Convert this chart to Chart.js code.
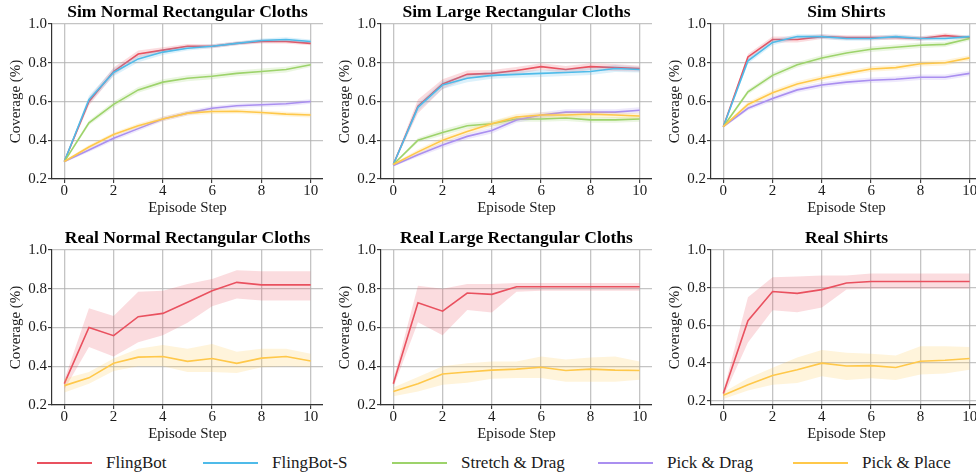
<!DOCTYPE html>
<html>
<head>
<meta charset="utf-8">
<script src="https://cdn.jsdelivr.net/npm/chart.js@4.4.1/dist/chart.umd.min.js"></script>
<style>
  body { margin: 0; width: 976px; height: 474px; overflow: hidden; background: #fff; position: relative; font-family: "Liberation Serif", serif; }
  canvas.panel { position: absolute; }
  .legend-item { position: absolute; top: 452px; height: 22px; display: flex; align-items: center; font-size: 17px; color: #1a1a1a; white-space: nowrap; }
  .legend-item .swatch { display: inline-block; width: 55px; height: 2px; margin-right: 14px; }
</style>
</head>
<body>
<canvas class="panel" id="p1" width="323" height="219" style="left:0px;top:0px"></canvas>
<canvas class="panel" id="p2" width="323" height="219" style="left:329px;top:0px"></canvas>
<canvas class="panel" id="p3" width="323" height="219" style="left:659px;top:0px"></canvas>
<canvas class="panel" id="p4" width="323" height="219" style="left:0px;top:226px"></canvas>
<canvas class="panel" id="p5" width="323" height="219" style="left:329px;top:226px"></canvas>
<canvas class="panel" id="p6" width="323" height="219" style="left:659px;top:226px"></canvas>
<div id="legend"></div>
<script>
const steps = [0, 1, 2, 3, 4, 5, 6, 7, 8, 9, 10];
const xTicks = [0, 2, 4, 6, 8, 10];
const yTicks = [0.2, 0.4, 0.6, 0.8, 1.0];
const methods = ['FlingBot', 'FlingBot-S', 'Stretch & Drag', 'Pick & Drag', 'Pick & Place'];
const colors = ['#e9515f', '#4fbbe9', '#9dd36b', '#aa8ff0', '#ffc84a'];
const legendLeft = [37, 203, 392, 598, 793];

// Sim Normal Rectangular Cloths (mean, half-width of band)
const snFling = [0.29, 0.60, 0.755, 0.845, 0.865, 0.885, 0.885, 0.90, 0.91, 0.91, 0.90];
const snFlingErr = [0.005, 0.02, 0.02, 0.018, 0.015, 0.012, 0.01, 0.01, 0.01, 0.01, 0.01];
const snFlingS = [0.29, 0.61, 0.75, 0.82, 0.855, 0.875, 0.885, 0.90, 0.915, 0.92, 0.91];
const snFlingSErr = [0.005, 0.02, 0.02, 0.018, 0.015, 0.012, 0.01, 0.01, 0.01, 0.012, 0.01];
const snStretch = [0.29, 0.49, 0.585, 0.66, 0.70, 0.72, 0.73, 0.745, 0.755, 0.765, 0.79];
const snStretchErr = [0.005, 0.012, 0.015, 0.015, 0.015, 0.015, 0.015, 0.015, 0.015, 0.015, 0.012];
const snPickDrag = [0.29, 0.35, 0.41, 0.46, 0.51, 0.54, 0.565, 0.578, 0.583, 0.588, 0.60];
const snPickDragErr = [0.005, 0.01, 0.012, 0.012, 0.012, 0.012, 0.012, 0.012, 0.012, 0.012, 0.012];
const snPickPlace = [0.29, 0.365, 0.43, 0.475, 0.51, 0.54, 0.548, 0.55, 0.543, 0.535, 0.53];
const snPickPlaceErr = [0.005, 0.01, 0.01, 0.012, 0.012, 0.012, 0.012, 0.012, 0.012, 0.012, 0.012];

// Sim Large Rectangular Cloths
const slFling = [0.275, 0.575, 0.69, 0.74, 0.745, 0.76, 0.78, 0.765, 0.78, 0.775, 0.77];
const slFlingErr = [0.005, 0.035, 0.025, 0.02, 0.018, 0.018, 0.018, 0.018, 0.018, 0.018, 0.015];
const slFlingS = [0.275, 0.57, 0.685, 0.72, 0.735, 0.74, 0.745, 0.75, 0.755, 0.77, 0.765];
const slFlingSErr = [0.005, 0.02, 0.02, 0.02, 0.018, 0.018, 0.018, 0.018, 0.018, 0.018, 0.015];
const slStretch = [0.275, 0.40, 0.44, 0.475, 0.485, 0.51, 0.51, 0.515, 0.505, 0.505, 0.51];
const slStretchErr = [0.005, 0.012, 0.015, 0.015, 0.015, 0.015, 0.015, 0.015, 0.015, 0.015, 0.015];
const slPickDrag = [0.27, 0.325, 0.375, 0.42, 0.45, 0.505, 0.53, 0.545, 0.545, 0.545, 0.555];
const slPickDragErr = [0.005, 0.012, 0.015, 0.015, 0.015, 0.015, 0.015, 0.015, 0.015, 0.015, 0.015];
const slPickPlace = [0.275, 0.34, 0.40, 0.445, 0.485, 0.52, 0.53, 0.53, 0.535, 0.53, 0.525];
const slPickPlaceErr = [0.005, 0.012, 0.015, 0.015, 0.015, 0.015, 0.015, 0.015, 0.015, 0.015, 0.015];

// Sim Shirts
const ssFling = [0.47, 0.83, 0.92, 0.92, 0.935, 0.93, 0.93, 0.93, 0.925, 0.94, 0.93];
const ssFlingErr = [0.005, 0.015, 0.015, 0.015, 0.012, 0.012, 0.012, 0.012, 0.012, 0.012, 0.01];
const ssFlingS = [0.47, 0.81, 0.905, 0.935, 0.935, 0.925, 0.925, 0.935, 0.925, 0.925, 0.935];
const ssFlingSErr = [0.005, 0.015, 0.015, 0.012, 0.012, 0.012, 0.012, 0.012, 0.012, 0.012, 0.01];
const ssStretch = [0.47, 0.65, 0.735, 0.79, 0.825, 0.85, 0.87, 0.88, 0.89, 0.895, 0.925];
const ssStretchErr = [0.005, 0.012, 0.014, 0.014, 0.014, 0.014, 0.014, 0.014, 0.014, 0.014, 0.012];
const ssPickDrag = [0.47, 0.565, 0.615, 0.66, 0.685, 0.70, 0.71, 0.715, 0.725, 0.725, 0.745];
const ssPickDragErr = [0.005, 0.012, 0.014, 0.014, 0.014, 0.014, 0.014, 0.014, 0.014, 0.014, 0.014];
const ssPickPlace = [0.47, 0.585, 0.645, 0.69, 0.72, 0.745, 0.768, 0.775, 0.795, 0.80, 0.825];
const ssPickPlaceErr = [0.005, 0.012, 0.014, 0.014, 0.014, 0.014, 0.014, 0.014, 0.014, 0.014, 0.014];

// Real Normal Rectangular Cloths (mean, band low, band high)
const rnFling = [0.31, 0.60, 0.558, 0.656, 0.673, 0.73, 0.79, 0.833, 0.82, 0.82, 0.82];
const rnFlingLo = [0.28, 0.50, 0.45, 0.524, 0.56, 0.625, 0.71, 0.75, 0.74, 0.74, 0.74];
const rnFlingHi = [0.33, 0.70, 0.66, 0.785, 0.79, 0.825, 0.85, 0.895, 0.89, 0.89, 0.89];
const rnPickPlace = [0.30, 0.34, 0.415, 0.447, 0.45, 0.425, 0.44, 0.415, 0.442, 0.45, 0.427];
const rnPickPlaceLo = [0.265, 0.31, 0.375, 0.40, 0.40, 0.37, 0.37, 0.365, 0.395, 0.40, 0.395];
const rnPickPlaceHi = [0.335, 0.37, 0.44, 0.49, 0.51, 0.49, 0.515, 0.475, 0.49, 0.49, 0.465];

// Real Large Rectangular Cloths
const rlFling = [0.31, 0.728, 0.684, 0.778, 0.771, 0.81, 0.81, 0.81, 0.81, 0.81, 0.81];
const rlFlingLo = [0.29, 0.627, 0.56, 0.69, 0.678, 0.785, 0.79, 0.79, 0.79, 0.79, 0.79];
const rlFlingHi = [0.33, 0.815, 0.80, 0.825, 0.825, 0.83, 0.83, 0.83, 0.83, 0.83, 0.83];
const rlPickPlace = [0.27, 0.31, 0.36, 0.37, 0.38, 0.385, 0.395, 0.378, 0.385, 0.38, 0.378];
const rlPickPlaceLo = [0.245, 0.27, 0.305, 0.315, 0.335, 0.34, 0.34, 0.32, 0.32, 0.32, 0.33];
const rlPickPlaceHi = [0.29, 0.345, 0.40, 0.415, 0.425, 0.425, 0.45, 0.435, 0.445, 0.45, 0.425];

// Real Shirts
const rsFling = [0.239, 0.625, 0.78, 0.77, 0.79, 0.825, 0.833, 0.833, 0.833, 0.833, 0.833];
const rsFlingLo = [0.22, 0.51, 0.68, 0.67, 0.695, 0.79, 0.795, 0.795, 0.795, 0.795, 0.795];
const rsFlingHi = [0.25, 0.75, 0.855, 0.86, 0.865, 0.865, 0.875, 0.875, 0.875, 0.875, 0.875];
const rsPickPlace = [0.23, 0.285, 0.335, 0.365, 0.40, 0.385, 0.387, 0.377, 0.41, 0.415, 0.425];
const rsPickPlaceLo = [0.21, 0.255, 0.285, 0.295, 0.33, 0.31, 0.32, 0.31, 0.34, 0.345, 0.365];
const rsPickPlaceHi = [0.245, 0.32, 0.375, 0.43, 0.47, 0.455, 0.45, 0.44, 0.49, 0.49, 0.485];

const FONT = '"Liberation Serif", "Times New Roman", serif';
const TEXT = '#1a1a1a';

function pts(vals) {
    return steps.map((s, i) => ({ x: s, y: vals[i] }));
}

function alpha(hex, a) {
    const n = parseInt(hex.slice(1), 16);
    return `rgba(${(n >> 16) & 255}, ${(n >> 8) & 255}, ${n & 255}, ${a})`;
}

// sim bands come as mean +/- half-width
function simSeries(m, mean, err) {
    return { m, mean, lo: mean.map((v, i) => v - err[i]), hi: mean.map((v, i) => v + err[i]) };
}

function makePanel(id, title, series, yMin) {
    const datasets = [];
    series.forEach(s => {
        const c = colors[s.m];
        // line first, then band (upper fills to lower) so the line sits on top
        datasets.push({ data: pts(s.mean), borderColor: c, borderWidth: 1.6, pointRadius: 0, fill: false, tension: 0, order: -s.m });
        datasets.push({ data: pts(s.hi), borderWidth: 0, pointRadius: 0, fill: '+1', backgroundColor: alpha(c, 0.2), tension: 0, order: -s.m });
        datasets.push({ data: pts(s.lo), borderWidth: 0, pointRadius: 0, fill: false, tension: 0, order: -s.m });
    });

    const gridCfg = { color: 'rgba(176, 176, 176, 0.75)', lineWidth: 1.3, tickColor: '#222', tickLength: 4, tickWidth: 1 };

    new Chart(document.getElementById(id), {
        type: 'line',
        data: { datasets },
        options: {
            responsive: false,
            animation: false,
            layout: { padding: 0 },
            plugins: {
                legend: { display: false },
                tooltip: { enabled: false },
                title: {
                    display: true, text: title, fullSize: false, color: '#000',
                    font: { family: FONT, size: 17.5, weight: 'bold', lineHeight: 1.2 },
                    padding: { top: 2, bottom: 1 }
                }
            },
            scales: {
                x: {
                    type: 'linear', min: -0.5, max: 10.5,
                    afterBuildTicks: s => { s.ticks = xTicks.map(v => ({ value: v })); },
                    afterFit: s => { s.height = 40; },
                    grid: gridCfg,
                    border: { color: '#333', width: 1.2 },
                    ticks: { font: { family: FONT, size: 15, lineHeight: 1 }, color: TEXT, padding: 1, maxRotation: 0, autoSkip: false },
                    title: { display: true, text: 'Episode Step', color: TEXT, font: { family: FONT, size: 15 }, padding: { top: 0, bottom: 2 } }
                },
                y: {
                    min: yMin, max: 1.0,
                    afterBuildTicks: s => { s.ticks = yTicks.map(v => ({ value: v })); },
                    afterFit: s => { s.width = 52; },
                    grid: gridCfg,
                    border: { color: '#333', width: 1.2 },
                    ticks: { font: { family: FONT, size: 15 }, color: TEXT, padding: 1, callback: v => v.toFixed(1) },
                    title: { display: true, text: 'Coverage (%)', color: TEXT, font: { family: FONT, size: 15 }, padding: { top: 7, bottom: 0 } }
                }
            }
        }
    });
}

makePanel('p1', 'Sim Normal Rectangular Cloths', [
    simSeries(0, snFling, snFlingErr),
    simSeries(1, snFlingS, snFlingSErr),
    simSeries(2, snStretch, snStretchErr),
    simSeries(3, snPickDrag, snPickDragErr),
    simSeries(4, snPickPlace, snPickPlaceErr)
], 0.2);

makePanel('p2', 'Sim Large Rectangular Cloths', [
    simSeries(0, slFling, slFlingErr),
    simSeries(1, slFlingS, slFlingSErr),
    simSeries(2, slStretch, slStretchErr),
    simSeries(3, slPickDrag, slPickDragErr),
    simSeries(4, slPickPlace, slPickPlaceErr)
], 0.2);

makePanel('p3', 'Sim Shirts', [
    simSeries(0, ssFling, ssFlingErr),
    simSeries(1, ssFlingS, ssFlingSErr),
    simSeries(2, ssStretch, ssStretchErr),
    simSeries(3, ssPickDrag, ssPickDragErr),
    simSeries(4, ssPickPlace, ssPickPlaceErr)
], 0.2);

makePanel('p4', 'Real Normal Rectangular Cloths', [
    { m: 0, mean: rnFling, lo: rnFlingLo, hi: rnFlingHi },
    { m: 4, mean: rnPickPlace, lo: rnPickPlaceLo, hi: rnPickPlaceHi }
], 0.2);

makePanel('p5', 'Real Large Rectangular Cloths', [
    { m: 0, mean: rlFling, lo: rlFlingLo, hi: rlFlingHi },
    { m: 4, mean: rlPickPlace, lo: rlPickPlaceLo, hi: rlPickPlaceHi }
], 0.2);

makePanel('p6', 'Real Shirts', [
    { m: 0, mean: rsFling, lo: rsFlingLo, hi: rsFlingHi },
    { m: 4, mean: rsPickPlace, lo: rsPickPlaceLo, hi: rsPickPlaceHi }
], 0.178);

// shared legend along the bottom
const legend = document.getElementById('legend');
methods.forEach((name, i) => {
    legend.insertAdjacentHTML('beforeend',
        `<div class="legend-item" style="left:${legendLeft[i]}px"><span class="swatch" style="background:${colors[i]}"></span>${name}</div>`);
});
</script>
</body>
</html>
